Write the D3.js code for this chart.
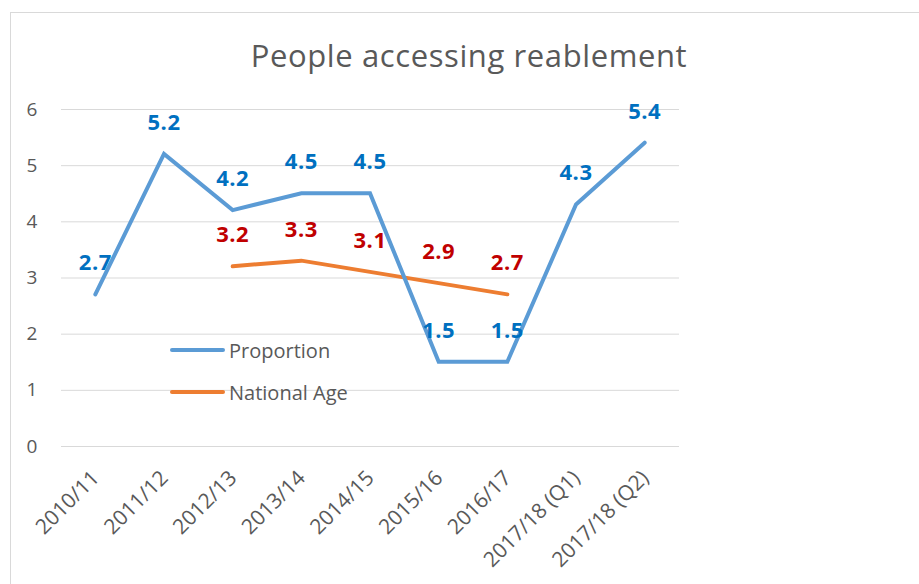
<!DOCTYPE html>
<html>
<head>
<meta charset="utf-8">
<script src="https://cdn.jsdelivr.net/npm/d3@7"></script>
<style>
  body { margin: 0; background: #fff; }
  text { font-family: "Open Sans", "Noto Sans", sans-serif; }
</style>
</head>
<body>
<svg id="chart" width="919" height="584"></svg>
<script>
var years = ["2010/11", "2011/12", "2012/13", "2013/14", "2014/15", "2015/16", "2016/17", "2017/18 (Q1)", "2017/18 (Q2)"];
var proportion = [2.7, 5.2, 4.2, 4.5, 4.5, 1.5, 1.5, 4.3, 5.4];
var nationalAge = [null, null, 3.2, 3.3, 3.1, 2.9, 2.7, null, null];
var yTicks = [0, 1, 2, 3, 4, 5, 6];

var svg = d3.select("#chart");

// outer frame (runs off the right/bottom edge)
svg.append("rect")
  .attr("x", 10.5).attr("y", 12.5)
  .attr("width", 940).attr("height", 600)
  .attr("fill", "none").attr("stroke", "#d9d9d9");

var x = d3.scaleBand().domain(years).range([61, 679]);
var y = d3.scaleLinear().domain([0, 6]).range([446, 109]);

// gridlines
svg.append("g").selectAll("line").data(yTicks).join("line")
  .attr("x1", 61).attr("x2", 679)
  .attr("y1", d => y(d) + 0.5).attr("y2", d => y(d) + 0.5)
  .attr("stroke", "#d9d9d9").attr("stroke-width", 1);

// y axis labels
var yAxis = d3.axisLeft(y).tickValues(yTicks).tickFormat(d3.format("d")).tickSize(0).tickPadding(0);
var gy = svg.append("g").attr("transform", "translate(32,0)").call(yAxis);
gy.select(".domain").remove();
gy.selectAll("text")
  .attr("fill", "#595959").style("font-size", "19px").attr("text-anchor", "middle");

// x axis labels
var xAxis = d3.axisBottom(x).tickSize(0).tickPadding(0);
var gx = svg.append("g").attr("transform", "translate(0,474)").call(xAxis);
gx.select(".domain").remove();
gx.selectAll("text")
  .attr("fill", "#595959").style("font-size", "21px")
  .style("text-anchor", "end")
  .attr("x", 0).attr("y", 0).attr("dy", "0.35em")
  .attr("transform", "rotate(-45)");

var cx = d => x(d) + x.bandwidth() / 2;

var line = d3.line()
  .defined(d => d[1] != null)
  .x(d => cx(d[0]))
  .y(d => y(d[1]));

svg.append("path")
  .datum(years.map((d, i) => [d, nationalAge[i]]))
  .attr("d", line).attr("fill", "none")
  .attr("stroke", "#ED7D31").attr("stroke-width", 4).attr("stroke-linecap", "round");

svg.append("path")
  .datum(years.map((d, i) => [d, proportion[i]]))
  .attr("d", line).attr("fill", "none")
  .attr("stroke", "#5B9BD5").attr("stroke-width", 4).attr("stroke-linecap", "round")
  .attr("stroke-linejoin", "miter");

// data labels
svg.append("g").selectAll("text")
  .data(years.map((d, i) => [d, proportion[i]]))
  .join("text")
  .attr("x", d => cx(d[0])).attr("y", d => y(d[1]) - 24)
  .attr("text-anchor", "middle")
  .attr("fill", "#0070C0").style("font-size", "22px").style("font-weight", "bold")
  .style("letter-spacing", "0.5px")
  .text(d => d[1].toFixed(1));

svg.append("g").selectAll("text")
  .data(years.map((d, i) => [d, nationalAge[i]]).filter(d => d[1] != null))
  .join("text")
  .attr("x", d => cx(d[0])).attr("y", d => y(d[1]) - 24)
  .attr("text-anchor", "middle")
  .attr("fill", "#C00000").style("font-size", "22px").style("font-weight", "bold")
  .style("letter-spacing", "0.5px")
  .text(d => d[1].toFixed(1));

// title
svg.append("text")
  .attr("x", 469).attr("y", 67).attr("text-anchor", "middle")
  .attr("fill", "#595959").style("font-size", "31px")
  .style("letter-spacing", "0.6px")
  .text("People accessing reablement");

// legend
var legend = [["Proportion", "#5B9BD5"], ["National Age", "#ED7D31"]];
var lg = svg.append("g").selectAll("g").data(legend).join("g")
  .attr("transform", (d, i) => `translate(0,${350 + i * 42})`);
lg.append("line")
  .attr("x1", 172).attr("x2", 223)
  .attr("stroke", d => d[1]).attr("stroke-width", 4).attr("stroke-linecap", "round");
lg.append("text")
  .attr("x", 229).attr("y", 8)
  .attr("fill", "#595959").style("font-size", "20px")
  .text(d => d[0]);
</script>
</body>
</html>
